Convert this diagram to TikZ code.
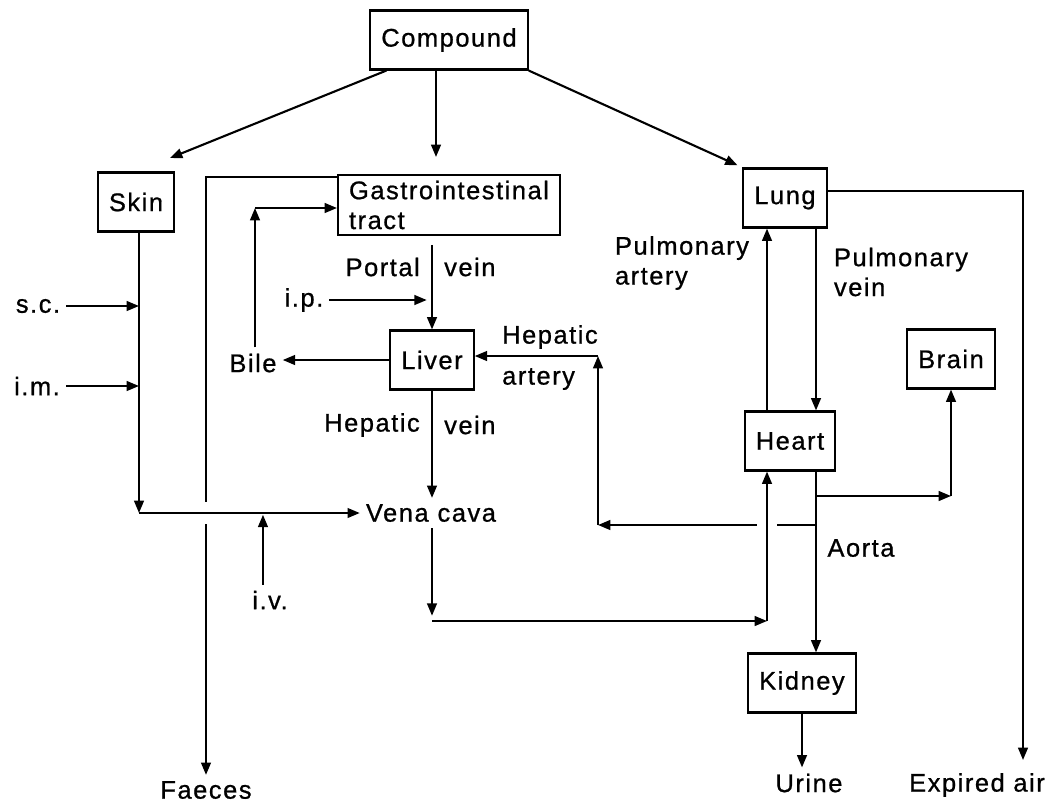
\documentclass[tikz,border=0pt]{standalone}
\usepackage{fontspec}
\setmainfont{Liberation Sans}[LetterSpace=6,FakeBold=0.8]
\usetikzlibrary{arrows.meta}
\begin{document}
\begin{tikzpicture}[x=0.02cm,y=-0.02cm,
  font=\fontsize{14.5}{17}\selectfont,
  box/.style={draw,line width=1.2pt,minimum height=1.18cm,inner xsep=0.22cm},
  arr/.style={line width=1.2pt,-{Triangle[length=7pt,width=5.5pt]}}]
\useasboundingbox (0,0) rectangle (1058,802);

\node[box] (comp) at (449,40) {Compound};
\node[box] (skin) at (136,202) {Skin};
\node[box,align=left] (gi) at (449,205) {Gastrointestinal\\tract};
\node[box] (lung) at (785,198) {Lung};
\node[box] (liver) at (432,360) {Liver};
\node[box] (brain) at (951,359) {Brain};
\node[box] (heart) at (790,441) {Heart};
\node[box] (kidney) at (802,683) {Kidney};

\node (bile) at (253,363) {Bile};
\node (sc) at (38,306) {s.c.};
\node (im) at (37,386) {i.m.};
\node (ip) at (304,300) {i.p.};
\node (iv) at (270,600) {i.v.};
\node (vena) at (431,513) {Vena\hspace{0.35em}cava};
\node (faeces) at (206,790) {Faeces};
\node (urine) at (809,783) {Urine};
\node (expired) at (977,785) {Expired air};

\node[anchor=east] (pvl) at (426,267) {Portal};
\node[anchor=west] (pvr) at (438,267) {vein};
\node[anchor=east] (hvl) at (426,425) {Hepatic};
\node[anchor=west] (hvr) at (438,425) {vein};
\node[anchor=west] (hal) at (496,337) {Hepatic};
\node[anchor=west] (har) at (496,379) {artery};
\node[align=left] (pa) at (682,263) {Pulmonary\\artery};
\node[align=left] (pv) at (901,272) {Pulmonary\\vein};
\node (aorta) at (861,548) {Aorta};

\coordinate (skin in) at (170,158);
\coordinate (gi in) at (436,157);
\coordinate (sk) at (139,513);
\coordinate (bt) at (255,208);
\coordinate (vc) at (432,621);
\coordinate (hc) at (767,621);
\coordinate (ao) at (816,496);
\coordinate (ha) at (816,525);
\coordinate (hac) at (598,525);
\coordinate (hat) at (598,356);
\coordinate (ea) at (1023,760);

\draw[arr] (comp.206) -- (skin in);
\draw[arr] (comp.south -| gi in) -- (gi in);
\draw[arr,shorten >=3pt] (comp.south east) -- (lung.north west);

\draw[arr] ([yshift=-2pt]gi.north west) -| (faeces.north);
\fill[white] ([xshift=-3pt,yshift=6.5pt]sk -| faeces.north) rectangle ([xshift=3pt,yshift=-6.5pt]sk -| faeces.north);
\draw[arr] (sk) -- (sk -| vena.west);
\draw[arr] (skin.south -| sk) -- (sk);
\draw[arr] (sc.east) -- (sc.east -| sk);
\draw[arr] (im.east) -- (im.east -| sk);
\draw[arr,shorten >=1pt] ([xshift=-4pt]iv.north) -- ([xshift=-4pt]iv.north |- sk);

\draw[arr] (liver.west) -- (liver.west -| bile.east);
\draw[arr] (bile.north -| bt) -- (bt);
\draw[arr] (bt) -- (bt -| gi.west);
\draw[arr,shorten <=5pt] (gi.south -| liver.north) -- (liver.north);
\draw[arr,shorten >=3pt] (ip.east) -- (ip.east -| liver.north);
\draw[arr] (liver.south) -- (liver.south |- vena.north);

\draw[arr,shorten >=3pt] (vena.south -| vc) -- (vc);
\draw[arr] (vc) -- (hc);
\draw[arr] (ha) -- (hac);
\fill[white] ([xshift=-5.5pt,yshift=3pt]hc |- ha) rectangle ([xshift=5.5pt,yshift=-3pt]hc |- ha);
\draw[arr] (hc) -- (hc |- heart.south);
\draw[arr] (hac) -- (hat);
\draw[arr] (hat) -- (hat -| liver.east);

\draw[arr] (hc |- heart.north) -- (hc |- lung.south);
\draw[arr] (ao |- lung.south) -- (ao |- heart.north);
\draw[arr] (ao |- heart.south) -- (ao |- kidney.north);
\draw[arr] (ao) -- (ao -| brain.south);
\draw[arr] (ao -| brain.south) -- (brain.south);
\draw[arr] ([yshift=4pt]lung.east) -| (ea);
\draw[arr] (kidney.south) -- (kidney.south |- urine.north);
\end{tikzpicture}
\end{document}
